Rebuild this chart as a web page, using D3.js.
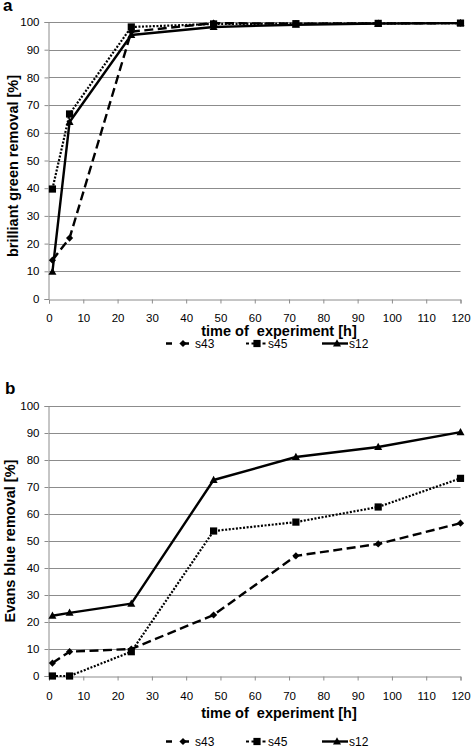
<!DOCTYPE html>
<html><head><meta charset="utf-8">
<script src="https://cdn.jsdelivr.net/npm/d3@7/dist/d3.min.js"></script>
<style>body{margin:0;background:#fff}svg{display:block;font-family:"Liberation Sans",Arial,sans-serif}</style>
</head><body><svg id="c" width="471" height="746"></svg>
<script>
const hours = [1, 6, 24, 48, 72, 96, 120];
const xTicks = [0,10,20,30,40,50,60,70,80,90,100,110,120];
const yTicks = [0,10,20,30,40,50,60,70,80,90,100];
const seriesNames = ["s43", "s45", "s12"];
const greenS43 = [14, 22, 96.5, 99.6, 99.4, 99.5, 99.6];
const greenS45 = [39.7, 66.8, 98.2, 99.3, 99.4, 99.5, 99.6];
const greenS12 = [9.8, 63.9, 95.3, 98.2, 99.0, 99.4, 99.6];
const blueS43 = [4.8, 9, 10, 22.6, 44.5, 48.9, 56.6];
const blueS45 = [0, 0, 9, 53.7, 57, 62.6, 73.2];
const blueS12 = [22.3, 23.4, 26.8, 72.6, 81.1, 84.8, 90.3];

const svg = d3.select("#c");
const FONT = "Liberation Sans, Arial, sans-serif";
const styles = {
  s43: {dash: "9,4.5", w: 2.4, marker: "diamond"},
  s45: {dash: "2,1.6", w: 2.2, marker: "square"},
  s12: {dash: null, w: 2.4, marker: "triangle"}
};
function drawMarker(g, type, x, y) {
  if (type === "square") g.append("rect").attr("x", x-3.6).attr("y", y-3.6).attr("width", 7.2).attr("height", 7.2).attr("fill", "#000");
  else if (type === "diamond") g.append("path").attr("d", `M${x},${y-3.6}L${x+3.6},${y}L${x},${y+3.6}L${x-3.6},${y}Z`).attr("fill", "#000");
  else g.append("path").attr("d", `M${x},${y-4.2}L${x+4},${y+3}L${x-4},${y+3}Z`).attr("fill", "#000");
}
function panel(cfg) {
  const x = d3.scaleLinear().domain([0,120]).range([49, 460.5]);
  const y = d3.scaleLinear().domain([0,100]).range([cfg.y0, cfg.y100]);
  const g = svg.append("g");
  g.selectAll("line.grid").data(yTicks.filter(d=>d>0)).join("line")
    .attr("x1", x(0)).attr("x2", x(120)).attr("y1", d=>Math.round(y(d))+0.5).attr("y2", d=>Math.round(y(d))+0.5)
    .attr("stroke", "#8c8c8c").attr("stroke-width", 1);
  const xa = g.append("g").attr("transform", `translate(0,${Math.round(y(0))+0.5})`)
    .call(d3.axisBottom(x).tickValues(xTicks).tickSize(4).tickPadding(cfg.xpad).tickFormat(d3.format("d")));
  xa.select(".domain").attr("stroke", "#8c8c8c");
  xa.selectAll(".tick line").attr("stroke", "#8c8c8c");
  xa.selectAll("text").attr("font-size", 11.5).attr("fill", "#000").attr("font-family", FONT);
  const ya = g.append("g").attr("transform", `translate(${x(0)-0.5},0)`)
    .call(d3.axisLeft(y).tickValues(yTicks).tickSize(4).tickPadding(5).tickFormat(d3.format("d")));
  ya.select(".domain").attr("stroke", "#8c8c8c");
  ya.selectAll(".tick line").attr("stroke", "#8c8c8c");
  ya.selectAll("text").attr("font-size", 11.5).attr("fill", "#000").attr("font-family", FONT);
  const line = d3.line().x((d,i)=>x(hours[i])).y(d=>y(d));
  cfg.data.forEach((vals, k) => {
    const st = styles[seriesNames[k]];
    g.append("path").attr("d", line(vals)).attr("fill", "none").attr("stroke", "#000")
      .attr("stroke-width", st.w).attr("stroke-dasharray", st.dash).attr("stroke-linejoin", "round");
    vals.forEach((v,i) => drawMarker(g, st.marker, x(hours[i]), y(v)));
  });
  g.append("text").attr("x", cfg.letterX).attr("y", cfg.letterY).attr("font-size", 17).attr("font-weight", "bold").text(cfg.letter);
  g.append("text").attr("transform", `translate(${cfg.ylabX},${cfg.ylabY}) rotate(-90)`).attr("text-anchor", "middle")
    .attr("font-size", 14.5).attr("font-weight", "bold").text(cfg.ylab);
  g.append("text").attr("x", 279).attr("y", cfg.xtitleY).attr("text-anchor", "middle").style("white-space", "pre")
    .attr("font-size", 14.5).attr("font-weight", "bold").text("time of  experiment [h]");
  const leg = [
    {n: "s43", x1: 166, x2: 192, mx: 183, tx: 195},
    {n: "s45", x1: 246, x2: 267, mx: 257, tx: 268},
    {n: "s12", x1: 322, x2: 348, mx: 337, tx: 349}
  ];
  leg.forEach(l => {
    const st = styles[l.n];
    g.append("line").attr("x1", l.x1).attr("x2", l.x2).attr("y1", cfg.legY).attr("y2", cfg.legY)
      .attr("stroke", "#000").attr("stroke-width", st.w).attr("stroke-dasharray", st.dash ? (l.n==="s43" ? "6,11" : "3,2.5") : null);
    drawMarker(g, st.marker, l.mx, cfg.legY);
    g.append("text").attr("x", l.tx).attr("y", cfg.legY + 4).attr("font-size", 12).text(l.n);
  });
}
panel({y0: 299, y100: 22, xpad: 10, data: [greenS43, greenS45, greenS12], letter: "a", letterX: 3, letterY: 11,
  ylab: "brilliant green removal [%]", ylabX: 18, ylabY: 166, xtitleY: 335.5, legY: 343.5});
panel({y0: 676, y100: 406, xpad: 11, data: [blueS43, blueS45, blueS12], letter: "b", letterX: 5, letterY: 394,
  ylab: "Evans blue removal [%]", ylabX: 15, ylabY: 541, xtitleY: 717.5, legY: 741.5});
</script></body></html>
